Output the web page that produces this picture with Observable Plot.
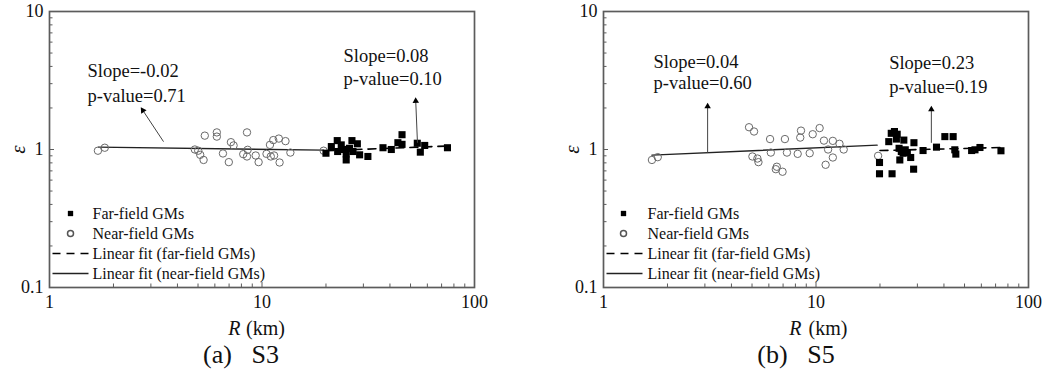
<!DOCTYPE html>
<html><head><meta charset="utf-8">
<script src="https://cdn.jsdelivr.net/npm/d3@7"></script>
<script src="https://cdn.jsdelivr.net/npm/@observablehq/plot@0.6"></script>
<style>
body{margin:0;background:#fff;}
#wrap{position:relative;width:1049px;height:376px;overflow:hidden;font-family:"Liberation Serif","Times New Roman",serif;background:#fff;}
.panel{position:absolute;top:0;}
.cap{position:absolute;top:340px;height:30px;line-height:30px;font-size:26px;color:#111;white-space:pre;transform:translateX(-50%);}
</style></head><body><div id="wrap"></div>
<script>
// ---------- data ----------
// Panel (a) S3
const s3NearR   = [1.69,1.82,4.83,5.01,5.12,5.31,5.38,6.13,6.13,6.55,6.98,7.14,7.35,8.16,8.50,8.56,8.50,9.34,9.64,10.5,10.9,11.0,11.3,11.4,12.0,12.1,12.9,13.6,19.5];
const s3NearEps = [0.98,1.03,1.00,0.98,0.915,0.84,1.26,1.33,1.24,0.936,0.81,1.13,1.07,0.925,1.33,0.995,0.89,0.905,0.81,0.93,1.08,0.89,1.17,0.905,1.20,0.805,1.15,0.95,0.98];
const s3FarR    = [20.0,21.2,22.6,22.7,23.6,24.3,24.9,24.9,25.8,26.5,26.8,28.1,28.8,31.5,37.1,40.6,43.6,45.6,45.6,53.8,55.6,58.3,74.6];
const s3FarEps  = [0.94,1.05,1.16,0.967,1.08,1.0,0.84,0.93,1.02,1.16,0.967,1.10,0.915,0.89,1.03,1.0,1.12,1.28,1.09,1.11,0.957,1.07,1.03];
const s3FitNearR = [1.7,19.5],  s3FitNearEps = [1.04,0.99];
const s3FitFarR  = [20,75],     s3FitFarEps  = [0.98,1.06];
const s3NoteText = ["Slope=-0.02","p-value=0.71","Slope=0.08","p-value=0.10"];
const s3NoteR    = [1.51,1.51,24.2,24.2];
const s3NoteEps  = [3.68,2.42,4.72,3.22];
const s3ArrowR1 = [3.44,53.9], s3ArrowE1 = [1.14,1.12];
const s3ArrowR2 = [2.75,52.9], s3ArrowE2 = [1.92,2.25];

// Panel (b) S5
const s5NearR   = [1.69,1.80,4.84,5.11,5.02,5.30,5.36,6.08,6.13,6.54,6.47,6.96,7.14,7.30,8.20,8.50,8.43,9.34,9.65,10.4,10.9,11.1,11.4,12.0,12.0,12.9,13.5,19.6];
const s5NearEps = [0.84,0.88,1.45,1.35,0.89,0.86,0.81,1.19,0.95,0.75,0.72,0.69,1.19,0.95,0.93,1.37,1.22,0.94,1.29,1.43,1.16,0.775,1.0,1.155,0.875,1.10,1.0,0.90];
const s5FarR    = [19.9,19.9,22.8,22.0,22.6,23.4,24.1,23.9,25.9,24.6,25.2,25.7,26.3,26.9,24.8,27.9,28.9,28.8,31.9,36.9,40.4,44.2,45.0,45.5,54.0,56.0,59.1,74.2];
const s5FarEps  = [0.805,0.667,0.667,1.14,1.31,1.35,1.29,1.19,1.17,1.02,0.967,0.94,0.995,0.95,0.84,0.875,1.12,0.72,0.983,1.04,1.24,1.24,0.995,0.926,0.983,0.995,1.034,0.979];
const s5FitNearR = [1.69,19.4], s5FitNearEps = [0.91,1.075];
const s5FitFarR  = [20,75],     s5FitFarEps  = [0.983,1.034];
const s5NoteText = ["Slope=0.04","p-value=0.60","Slope=0.23","p-value=0.19"];
const s5NoteR    = [1.72,1.72,22.1,22.1];
const s5NoteEps  = [4.31,3.01,4.24,2.84];
const s5ArrowR1 = [3.09,34.9], s5ArrowE1 = [0.946,1.118];
const s5ArrowR2 = [3.09,34.9], s5ArrowE2 = [2.05,1.95];

// Axes / legend / captions
const xMajor = [1,10,100];
const xMinor = [2,3,4,5,6,7,8,9,20,30,40,50,60,70,80,90];
const yMajor = [0.1,1,10];
const yMinor = [0.2,0.3,0.4,0.5,0.6,0.7,0.8,0.9,2,3,4,5,6,7,8,9];
const legendLabels = ["Far-field GMs","Near-field GMs","Linear fit (far-field GMs)","Linear fit (near-field GMs)"];
const captions = ["(a)   S3","(b)   S5"];

// ---------- drawing ----------
const W = 495, H = 340, ML = 49, MR = 21, MT = 11, MB = 53;
const FW = W - ML - MR, FH = H - MT - MB;
const pts = (xs, ys) => xs.map((x, i) => ({x, y: ys[i]}));
const hline = L => ({draw(ctx){ ctx.moveTo(-L, 0); ctx.lineTo(L, 0); }});

function legendTexts(dx) {
  return legendLabels.map((t, i) => Plot.text([t], {frameAnchor: "bottom-left", dx, dy: -74 + 20 * i, text: v => v, textAnchor: "start", lineAnchor: "middle", fontSize: 16, fill: "#111"}));
}

function panel(d) {
  const near = pts(d.nearR, d.nearEps), far = pts(d.farR, d.farEps);
  const fitN = pts(d.fitNR, d.fitNE), fitF = pts(d.fitFR, d.fitFE);
  const notes = d.noteText.map((t, i) => ({t, x: d.noteR[i], y: d.noteE[i]}));
  // arrow direction (degrees) in screen space of the log-log frame
  const arrows = d.ar1.map((x1, i) => {
    const x2 = d.ar2[i], y1 = d.ae1[i], y2 = d.ae2[i];
    const px = Math.log10(x2 / x1) * FW / 2, py = -Math.log10(y2 / y1) * FH / 2;
    return {x1, y1, x2, y2, rot: Math.atan2(px, -py) * 180 / Math.PI};
  });
  const ink = "#111", frameCol = "#5c5c5c";
  return Plot.plot({
    width: W, height: H, marginLeft: ML, marginRight: MR, marginTop: MT, marginBottom: MB,
    style: {fontFamily: '"Liberation Serif","Times New Roman",serif', background: "#fff", color: ink},
    x: {type: "log", domain: [1, 100]},
    y: {type: "log", domain: [0.1, 10]},
    marks: [
      Plot.axisX({ticks: xMajor, tickSize: 0, tickPadding: 8, tickFormat: v => String(v), fontSize: 18, label: null, fill: ink}),
      Plot.axisY({ticks: yMajor, tickSize: 0, tickPadding: 6, tickFormat: v => String(v), fontSize: 18, label: null, fill: ink}),
      Plot.tickX(xMinor, {x: v => v, insetTop: FH - 3.5, stroke: frameCol, strokeWidth: 1}),
      Plot.tickX(xMajor, {x: v => v, insetTop: FH - 5, stroke: frameCol, strokeWidth: 1}),
      Plot.tickY(yMinor, {y: v => v, insetRight: FW - 3.5, stroke: frameCol, strokeWidth: 1}),
      Plot.tickY(yMajor, {y: v => v, insetRight: FW - 5, stroke: frameCol, strokeWidth: 1}),
      Plot.frame({stroke: frameCol, strokeWidth: 1.7}),
      Plot.line(fitN, {x: "x", y: "y", stroke: "#222", strokeWidth: 1.4}),
      Plot.line(fitF, {x: "x", y: "y", stroke: "#000", strokeWidth: 1.6, strokeDasharray: "8,6"}),
      Plot.dot(near, {x: "x", y: "y", r: 3.7, stroke: "#6a6a6a", strokeWidth: 1, fill: "none"}),
      Plot.dot(far, {x: "x", y: "y", r: 4, symbol: "square", fill: "#000", stroke: "none"}),
      Plot.link(arrows, {x1: "x1", y1: "y1", x2: "x2", y2: "y2", stroke: "#444", strokeWidth: 1}),
      Plot.dot(arrows, {x: "x2", y: "y2", symbol: "triangle", r: 2.4, rotate: "rot", fill: "#000", stroke: "none"}),
      Plot.text(notes, {x: "x", y: "y", text: "t", textAnchor: "start", lineAnchor: "middle", fontSize: 18.5, fill: ink}),
      // legend
      Plot.dot([0], {frameAnchor: "bottom-left", dx: d.lgSym, dy: -74, symbol: "square", r: 3, fill: "#000"}),
      Plot.dot([0], {frameAnchor: "bottom-left", dx: d.lgSym, dy: -54, r: 3, stroke: "#555", fill: "none"}),
      Plot.dot([0], {frameAnchor: "bottom-left", dx: d.lgLine, dy: -34, symbol: hline(18), stroke: "#000", strokeWidth: 1.6, strokeDasharray: "8,6", fill: "none"}),
      Plot.dot([0], {frameAnchor: "bottom-left", dx: d.lgLine, dy: -14, symbol: hline(18), stroke: "#222", strokeWidth: 1.4, fill: "none"}),
      ...legendTexts(d.lgText),
      // axis titles
      Plot.text(["ε"], {frameAnchor: "left", dx: -31, rotate: -90, textAnchor: "middle", lineAnchor: "middle", fontSize: 21, fontStyle: "italic", fill: ink}),
      Plot.text(["R"], {frameAnchor: "bottom", dx: d.xlR, dy: 41, textAnchor: "end", lineAnchor: "middle", fontSize: 20, fontStyle: "italic", fill: ink}),
      Plot.text(["(km)"], {frameAnchor: "bottom", dx: d.xlKm, dy: 41, textAnchor: "start", lineAnchor: "middle", fontSize: 20, fill: ink})
    ]
  });
}

const wrap = document.getElementById("wrap");
const cfgs = [
  {left: 0, cap: 241, nearR: s3NearR, nearEps: s3NearEps, farR: s3FarR, farEps: s3FarEps,
   fitNR: s3FitNearR, fitNE: s3FitNearEps, fitFR: s3FitFarR, fitFE: s3FitFarEps,
   noteText: s3NoteText, noteR: s3NoteR, noteE: s3NoteEps, ar1: s3ArrowR1, ae1: s3ArrowE1, ar2: s3ArrowR2, ae2: s3ArrowE2,
   lgSym: 21, lgLine: 21, lgText: 43, xlR: -21.5, xlKm: -16},
  {left: 554, cap: 796, nearR: s5NearR, nearEps: s5NearEps, farR: s5FarR, farEps: s5FarEps,
   fitNR: s5FitNearR, fitNE: s5FitNearEps, fitFR: s5FitFarR, fitFE: s5FitFarEps,
   noteText: s5NoteText, noteR: s5NoteR, noteE: s5NoteEps, ar1: s5ArrowR1, ae1: s5ArrowE1, ar2: s5ArrowR2, ae2: s5ArrowE2,
   lgSym: 20, lgLine: 21, lgText: 44, xlR: -14.5, xlKm: -7.5}
];

cfgs.forEach((c, i) => {
  const div = document.createElement("div");
  div.className = "panel";
  div.style.left = c.left + "px";
  div.appendChild(panel(c));
  wrap.appendChild(div);
  const cap = document.createElement("div");
  cap.className = "cap";
  cap.style.left = c.cap + "px";
  cap.textContent = captions[i];
  wrap.appendChild(cap);
});
</script>
</body></html>
